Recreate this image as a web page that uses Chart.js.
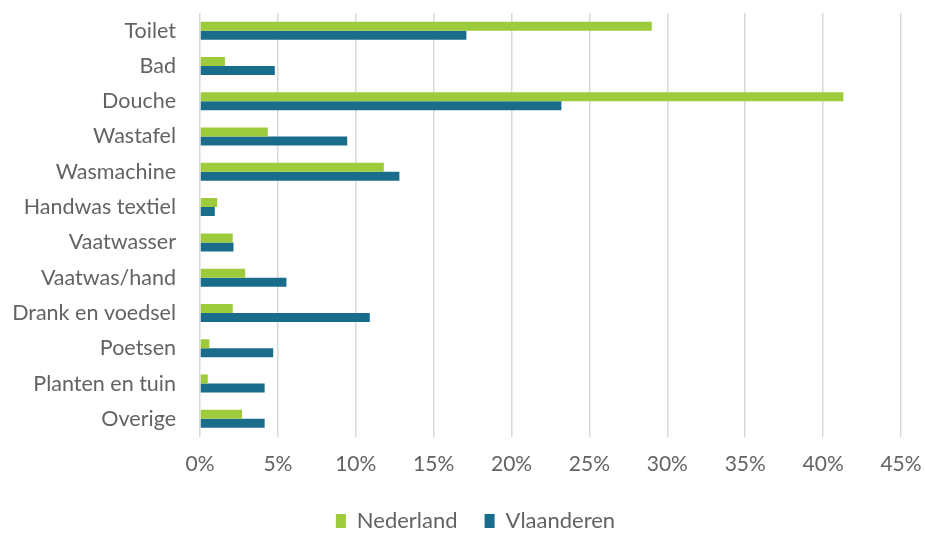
<!DOCTYPE html>
<html>
<head>
<meta charset="utf-8">
<script src="https://cdn.jsdelivr.net/npm/chart.js@4"></script>
<style>
  html, body { margin: 0; padding: 0; background: #fff; }
  #wrap { width: 925px; height: 533px; }
</style>
</head>
<body>
<div id="wrap"><canvas id="chart" width="925" height="533"></canvas></div>
<script>
// Water use per purpose (share of total)
const categories = ['Toilet', 'Bad', 'Douche', 'Wastafel', 'Wasmachine', 'Handwas textiel',
  'Vaatwasser', 'Vaatwas/hand', 'Drank en voedsel', 'Poetsen', 'Planten en tuin', 'Overige'];
const nederland = [29.0, 1.6, 41.3, 4.35, 11.8, 1.1, 2.1, 2.9, 2.1, 0.6, 0.5, 2.7];
const vlaanderen = [17.1, 4.8, 23.2, 9.45, 12.8, 0.95, 2.15, 5.55, 10.9, 4.7, 4.15, 4.15];
const xTicks = [0, 5, 10, 15, 20, 25, 30, 35, 40, 45];

const FONT = 'Lato, "Open Sans", sans-serif';
const TEXT = '#636363';

// keep the legend short (wide item spacing) and nudge it right like the original
const legendTweak = {
  id: 'legendTweak',
  afterInit(chart) {
    const lg = chart.legend;
    if (!lg) return;
    const fit = lg.fit;
    lg.fit = function () {
      fit.call(this);
      this.height = 52;
    };
    const draw = lg.draw;
    lg.draw = function (area) {
      const ctx = this.ctx;
      ctx.save();
      ctx.translate(13, 2);
      draw.call(this, area);
      ctx.restore();
    };
  }
};

new Chart(document.getElementById('chart'), {
  type: 'bar',
  data: {
    labels: categories,
    datasets: [
      { label: 'Nederland', data: nederland, backgroundColor: '#9ECB3B' },
      { label: 'Vlaanderen', data: vlaanderen, backgroundColor: '#1A6D8A' }
    ]
  },
  plugins: [legendTweak],
  options: {
    indexAxis: 'y',
    responsive: false,
    animation: false,
    devicePixelRatio: 1,
    categoryPercentage: 0.51,
    barPercentage: 1.0,
    layout: { padding: { left: 0, right: 0, top: 13, bottom: 0 } },
    plugins: {
      tooltip: { enabled: false },
      legend: {
        position: 'bottom',
        labels: {
          font: { family: FONT, size: 22 },
          color: TEXT,
          boxWidth: 10,
          boxHeight: 14,
          padding: 27,
          useBorderRadius: false
        }
      }
    },
    scales: {
      x: {
        min: 0,
        max: 45,
        afterBuildTicks: axis => { axis.ticks = xTicks.map(v => ({ value: v })); },
        afterFit: axis => {
          axis.height = 44.5;
          axis.paddingLeft = 0;
          axis.paddingRight = 24;
        },
        ticks: {
          font: { family: FONT, size: 21 },
          color: TEXT,
          padding: 15,
          callback: v => v + '%'
        },
        grid: { color: '#D9D9D9', lineWidth: 1.5, drawTicks: false },
        border: { display: false }
      },
      y: {
        afterFit: axis => {
          axis.width = 200;
          axis.paddingTop = 0;
          axis.paddingBottom = 0;
        },
        ticks: {
          font: { family: FONT, size: 21.5 },
          color: TEXT,
          padding: 24
        },
        grid: { display: false, drawTicks: false },
        border: { display: false }
      }
    }
  }
});
</script>
</body>
</html>
